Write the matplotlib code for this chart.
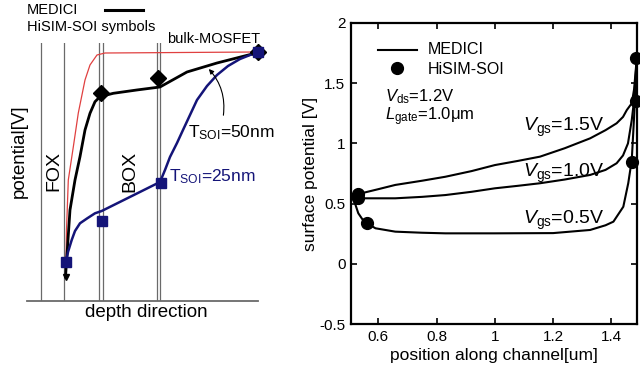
import matplotlib
matplotlib.use("Agg")
import matplotlib.pyplot as plt

plt.rcParams['font.family'] = ['Liberation Sans', 'DejaVu Sans']
plt.rcParams['mathtext.fontset'] = 'custom'
plt.rcParams['mathtext.rm'] = 'Liberation Sans'
plt.rcParams['mathtext.it'] = 'Liberation Sans:italic'

# --- left panel: schematic potential vs depth (arbitrary units 0..10) ---
layer_edges = [0.593, 1.615, 3.13, 3.30, 5.61, 5.77]

bulk_d = [1.688, 1.71, 1.788, 2.004, 2.221, 2.511, 2.727, 3.03, 3.377, 10.0]
bulk_p = [1.502, 2.74, 4.684, 5.964, 7.284, 8.565, 9.147, 9.535, 9.612, 9.651]

soi50_d = [1.667, 1.71, 1.861, 2.078, 2.294, 2.511, 2.727, 2.944, 3.16, 3.736,
           4.749, 5.758, 6.926, 8.225, 10.0]
soi50_p = [0.92, 1.502, 3.52, 4.684, 5.588, 6.624, 7.272, 7.722, 7.916, 8.048,
           8.176, 8.293, 8.875, 9.224, 9.63]

soi25_d = [1.688, 1.775, 1.935, 2.078, 2.294, 2.61, 2.944, 3.234, 5.758, 5.974,
           6.19, 6.494, 6.753, 7.056, 7.359, 7.792, 8.225, 8.701, 9.221, 9.654, 10.0]
soi25_p = [1.502, 1.89, 2.355, 2.705, 3.004, 3.198, 3.392, 3.481, 4.606, 5.072,
           5.576, 6.12, 6.624, 7.206, 7.788, 8.331, 8.758, 9.107, 9.379, 9.534, 9.632]

soi50_sym_d = [3.203, 5.671, 10.0]
soi50_sym_p = [8.06, 8.642, 9.632]
soi25_sym_d = [1.688, 3.234, 5.788, 10.0]
soi25_sym_p = [1.502, 3.104, 4.556, 9.632]

# --- right panel: surface potential along channel ---
x_15 = [0.532, 0.6, 0.658, 0.75, 0.83, 0.92, 1.0, 1.08, 1.155, 1.24, 1.327,
        1.38, 1.418, 1.44, 1.453, 1.47, 1.478, 1.487]
y_15 = [0.58, 0.62, 0.655, 0.69, 0.723, 0.77, 0.82, 0.855, 0.89, 0.96, 1.042,
        1.11, 1.167, 1.22, 1.277, 1.333, 1.45, 1.70]
x_10 = [0.532, 0.6, 0.658, 0.75, 0.83, 0.92, 1.0, 1.08, 1.155, 1.24, 1.327,
        1.38, 1.418, 1.44, 1.457, 1.47, 1.478, 1.487]
y_10 = [0.544, 0.544, 0.544, 0.556, 0.571, 0.598, 0.627, 0.648, 0.669, 0.70,
        0.738, 0.78, 0.835, 0.90, 1.0, 1.194, 1.36, 1.70]
x_05 = [0.51, 0.52, 0.531, 0.545, 0.561, 0.59, 0.658, 0.75, 0.83, 1.0, 1.2,
        1.327, 1.38, 1.407, 1.441, 1.458, 1.47, 1.475, 1.481, 1.487]
y_05 = [0.557, 0.50, 0.42, 0.37, 0.336, 0.295, 0.267, 0.258, 0.253, 0.253,
        0.255, 0.281, 0.32, 0.35, 0.474, 0.67, 0.862, 1.084, 1.36, 1.70]

hisim_x = [0.53, 0.53, 0.561, 1.484, 1.484, 1.472]
hisim_y = [0.58, 0.545, 0.336, 1.71, 1.352, 0.845]

xticks = [0.6, 0.8, 1.0, 1.2, 1.4]
xticklabels = ['0.6', '0.8', '1', '1.2', '1.4']
yticks = [-0.5, 0, 0.5, 1, 1.5, 2]
yticklabels = ['-0.5', '0', '0.5', '1', '1.5', '2']

NAVY = '#141478'
GRAY = '#6a6a6a'

fig = plt.figure(figsize=(6.4, 3.69), dpi=100)

# left schematic
axl = fig.add_axes([27 / 640, 68.3 / 369, 231 / 640, 257.7 / 369])
axl.set_xlim(0, 10)
axl.set_ylim(0, 10)
for s in ['top', 'right', 'left']:
    axl.spines[s].set_visible(False)
axl.spines['bottom'].set_color(GRAY)
axl.spines['bottom'].set_linewidth(1.3)
axl.set_xticks([])
axl.set_yticks([])
for d in layer_edges:
    axl.plot([d, d], [0, 10], color=GRAY, lw=0.9)

axl.plot(bulk_d, bulk_p, color='#e04040', lw=0.9, clip_on=False)
axl.plot(soi50_d, soi50_p, color='black', lw=2.0, clip_on=False)
axl.plot(soi50_d[0], soi50_p[0], 'v', color='black', ms=4)
axl.plot(soi25_d, soi25_p, color=NAVY, lw=1.8, clip_on=False)
axl.plot(soi50_sym_d, soi50_sym_p, 'D', color='black', ms=8, ls='none', clip_on=False, zorder=5)
axl.plot(soi25_sym_d, soi25_sym_p, 's', color=NAVY, ms=7, ls='none', clip_on=False, zorder=6)

axl.text(0, 11.29, 'MEDICI', fontsize=10.5, va='center', ha='left')
axl.plot([3.377, 5.022], [11.29, 11.29], color='black', lw=2.2, clip_on=False)
axl.text(0, 10.62, 'HiSIM-SOI symbols', fontsize=10.5, va='center', ha='left')
axl.text(6.06, 10.16, 'bulk-MOSFET', fontsize=10.5, va='center', ha='left')
axl.text(-0.35, 5.82, 'potential[V]', fontsize=13.5, rotation=90, va='center', ha='center')
axl.text(1.156, 5.03, 'FOX', fontsize=14, rotation=90, va='center', ha='center')
axl.text(4.459, 5.03, 'BOX', fontsize=14, rotation=90, va='center', ha='center')
axl.text(5.15, -0.44, 'depth direction', fontsize=13.5, va='center', ha='center')
axl.text(6.97, 6.51, r'T$_{\mathrm{SOI}}$=50nm', fontsize=12.5, va='center', ha='left')
axl.text(6.15, 4.80, r'T$_{\mathrm{SOI}}$=25nm', fontsize=12.5, va='center', ha='left', color=NAVY)
axl.annotate('', xy=(7.79, 9.07), xytext=(8.485, 7.09),
             arrowprops=dict(arrowstyle='-|>', color='black', lw=0.8,
                             connectionstyle='arc3,rad=0.25', mutation_scale=7))

# right plot
ax = fig.add_axes([351 / 640, 45 / 369, 286 / 640, 301 / 369])
ax.plot(x_15, y_15, color='black', lw=1.5, label='MEDICI', clip_on=False)
ax.plot(x_10, y_10, color='black', lw=1.5, clip_on=False)
ax.plot(x_05, y_05, color='black', lw=1.5, clip_on=False)
ax.plot(hisim_x, hisim_y, 'o', color='black', ms=8.5, clip_on=False, zorder=5)

ax.set_xlim(0.506, 1.488)
ax.set_ylim(-0.5, 2)
ax.set_xticks(xticks)
ax.set_xticklabels(xticklabels)
ax.set_yticks(yticks)
ax.set_yticklabels(yticklabels)
ax.tick_params(direction='in', top=True, right=True, length=4, width=1.2,
               labelsize=11, pad=4)
for s in ax.spines.values():
    s.set_linewidth(1.6)
ax.set_xlabel('position along channel[um]', fontsize=12.5, labelpad=3)
ax.set_ylabel('surface potential [V]', fontsize=12.5, labelpad=1)

# legend drawn by hand
ax.plot([0.597, 0.734], [1.776, 1.776], color='black', lw=1.5)
ax.text(0.771, 1.776, 'MEDICI', fontsize=11.5, va='center', ha='left')
ax.plot([0.665], [1.626], 'o', color='black', ms=8.5)
ax.text(0.771, 1.615, 'HiSIM-SOI', fontsize=11.5, va='center', ha='left')
ax.text(0.624, 1.39, r'$V_{\mathrm{ds}}$=1.2V', fontsize=12, va='center', ha='left')
ax.text(0.624, 1.22, r'$L_{\mathrm{gate}}$=1.0μm', fontsize=12, va='center', ha='left')

ax.text(1.097, 1.103, r'$V_{\mathrm{gs}}$=1.5V', fontsize=14, va='baseline', ha='left')
ax.text(1.097, 0.721, r'$V_{\mathrm{gs}}$=1.0V', fontsize=14, va='baseline', ha='left')
ax.text(1.097, 0.331, r'$V_{\mathrm{gs}}$=0.5V', fontsize=14, va='baseline', ha='left')

fig.savefig('out.png', dpi=100)
